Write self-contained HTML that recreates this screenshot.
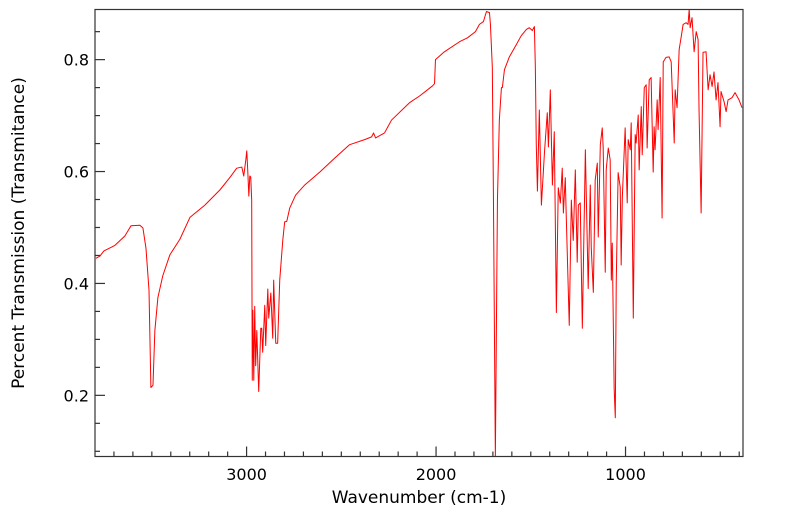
<!DOCTYPE html>
<html><head><meta charset="utf-8"><style>
html,body{margin:0;padding:0;background:#fff;}
svg{display:block;font-family:"DejaVu Sans","Liberation Sans",sans-serif;}
</style></head><body>
<svg id="chart" width="799" height="516" viewBox="0 0 799 516" xmlns="http://www.w3.org/2000/svg">
<defs><clipPath id="pc"><rect x="95" y="9.5" width="648" height="447"/></clipPath></defs>
<rect x="95" y="9.5" width="648" height="447" fill="#fff"/>
<g id="ticks"></g>
<g id="labels" font-size="16" fill="#000"></g>
<path id="spec" clip-path="url(#pc)" fill="none" stroke="#ff0000" stroke-width="1" stroke-linejoin="round"/>
<rect x="95" y="9.5" width="648" height="447" fill="none" stroke="#333" stroke-width="1.2"/>
<text x="419" y="503" font-size="17" text-anchor="middle">Wavenumber (cm-1)</text>
<text x="24" y="233" font-size="17" text-anchor="middle" transform="rotate(-90 24 233)">Percent Transmission (Transmitance)</text>
</svg>
<script>
const wavenumbers=[3795,3774,3753,3695,3642,3610,3563,3547,3531,3515,3505,3494,3484,3468,3442,3405,3352,3299,3220,3141,3089,3052,3025,3015,3004,2999,2994,2988,2983,2978,2973,2970,2967,2962,2957,2952,2946,2936,2925,2920,2915,2904,2899,2888,2883,2872,2862,2857,2846,2836,2825,2809,2799,2788,2772,2741,2693,2614,2535,2456,2377,2340,2330,2319,2272,2235,2140,2087,2019,2008,2003,1956,1876,1834,1792,1771,1750,1734,1718,1713,1703,1697,1687,1676,1666,1655,1650,1639,1613,1576,1550,1523,1508,1492,1481,1476,1471,1465,1455,1444,1428,1413,1407,1397,1386,1376,1365,1355,1344,1334,1328,1318,1313,1297,1286,1276,1265,1255,1249,1239,1228,1212,1197,1186,1181,1170,1160,1149,1144,1133,1123,1118,1107,1102,1091,1081,1075,1070,1060,1054,1049,1039,1028,1023,1017,1002,991,986,975,970,959,949,944,933,928,917,912,901,891,886,875,865,854,849,844,833,828,817,807,801,786,770,759,743,738,728,717,707,696,680,670,664,659,649,638,627,617,612,601,591,575,564,554,543,533,522,512,501,496,480,469,459,438,422,401,385];
const transmittance=[0.445,0.449,0.458,0.468,0.485,0.503,0.504,0.499,0.463,0.388,0.214,0.218,0.316,0.375,0.414,0.451,0.479,0.518,0.540,0.567,0.589,0.606,0.608,0.592,0.621,0.637,0.603,0.556,0.592,0.590,0.549,0.227,0.352,0.227,0.359,0.253,0.316,0.207,0.320,0.320,0.277,0.361,0.289,0.390,0.338,0.383,0.302,0.406,0.293,0.293,0.406,0.477,0.510,0.511,0.535,0.558,0.576,0.599,0.624,0.648,0.657,0.662,0.669,0.660,0.669,0.692,0.723,0.735,0.753,0.757,0.800,0.814,0.832,0.839,0.850,0.863,0.868,0.886,0.884,0.863,0.786,0.549,0.09,0.549,0.692,0.750,0.750,0.782,0.805,0.827,0.843,0.854,0.857,0.852,0.859,0.787,0.648,0.565,0.710,0.540,0.633,0.705,0.644,0.746,0.576,0.671,0.348,0.571,0.544,0.606,0.526,0.589,0.522,0.325,0.549,0.477,0.603,0.438,0.540,0.544,0.320,0.639,0.391,0.576,0.465,0.384,0.585,0.615,0.483,0.648,0.678,0.644,0.420,0.603,0.642,0.621,0.406,0.472,0.212,0.160,0.402,0.598,0.572,0.433,0.553,0.678,0.544,0.657,0.639,0.687,0.338,0.666,0.651,0.701,0.603,0.716,0.630,0.750,0.755,0.642,0.764,0.768,0.599,0.680,0.639,0.728,0.675,0.768,0.517,0.796,0.804,0.805,0.796,0.651,0.746,0.714,0.818,0.839,0.863,0.866,0.863,0.890,0.857,0.875,0.814,0.850,0.836,0.710,0.526,0.813,0.814,0.746,0.773,0.752,0.778,0.728,0.759,0.680,0.743,0.725,0.707,0.728,0.732,0.741,0.728,0.714];
const xTickLabels=[3000,2000,1000];
const yTickLabels=[0.2,0.4,0.6,0.8];

const X0=95,X1=743,Y0=456.5,Y1=9.5;
const xMin=3800,xMax=380,yMin=0.0907,yMax=0.8896;
function xs(v){return X0+(xMin-v)/(xMin-xMax)*(X1-X0);}
function ys(v){return Y0-(v-yMin)/(yMax-yMin)*(Y0-Y1);}
const NS='http://www.w3.org/2000/svg';

let d='';
for(let i=0;i<wavenumbers.length;i++){d+=(i?'L':'M')+xs(wavenumbers[i]).toFixed(2)+' '+ys(transmittance[i]).toFixed(2);}
document.getElementById('spec').setAttribute('d',d);

const tg=document.getElementById('ticks');
function line(x1,y1,x2,y2,name){const l=document.createElementNS(NS,'line');
l.setAttribute('x1',x1);l.setAttribute('y1',y1);l.setAttribute('x2',x2);l.setAttribute('y2',y2);
l.setAttribute('stroke','#333');l.setAttribute('stroke-width','1.2');


tg.appendChild(l);}
for(let w=3700;w>=400;w-=100){const x=xs(w);const maj=(w%1000===0);line(x,Y0,x,Y0-(maj?10:5),maj?'x-major-tick':'x-minor-tick');}
for(let k=2;k<=17;k++){const v=k*0.05;const y=ys(v);const maj=(k%4===0);line(X0,y,X0+(maj?10:5),y,maj?'y-major-tick':'y-minor-tick');}

const lg=document.getElementById('labels');
xTickLabels.forEach(v=>{const t=document.createElementNS(NS,'text');
t.setAttribute('x',xs(v));t.setAttribute('y',480);t.setAttribute('text-anchor','middle');t.textContent=v;


lg.appendChild(t);});
yTickLabels.forEach(v=>{const t=document.createElementNS(NS,'text');
t.setAttribute('x',89);t.setAttribute('y',ys(v)+6);t.setAttribute('text-anchor','end');t.textContent=v.toFixed(1);


lg.appendChild(t);});
</script>
</body></html>
